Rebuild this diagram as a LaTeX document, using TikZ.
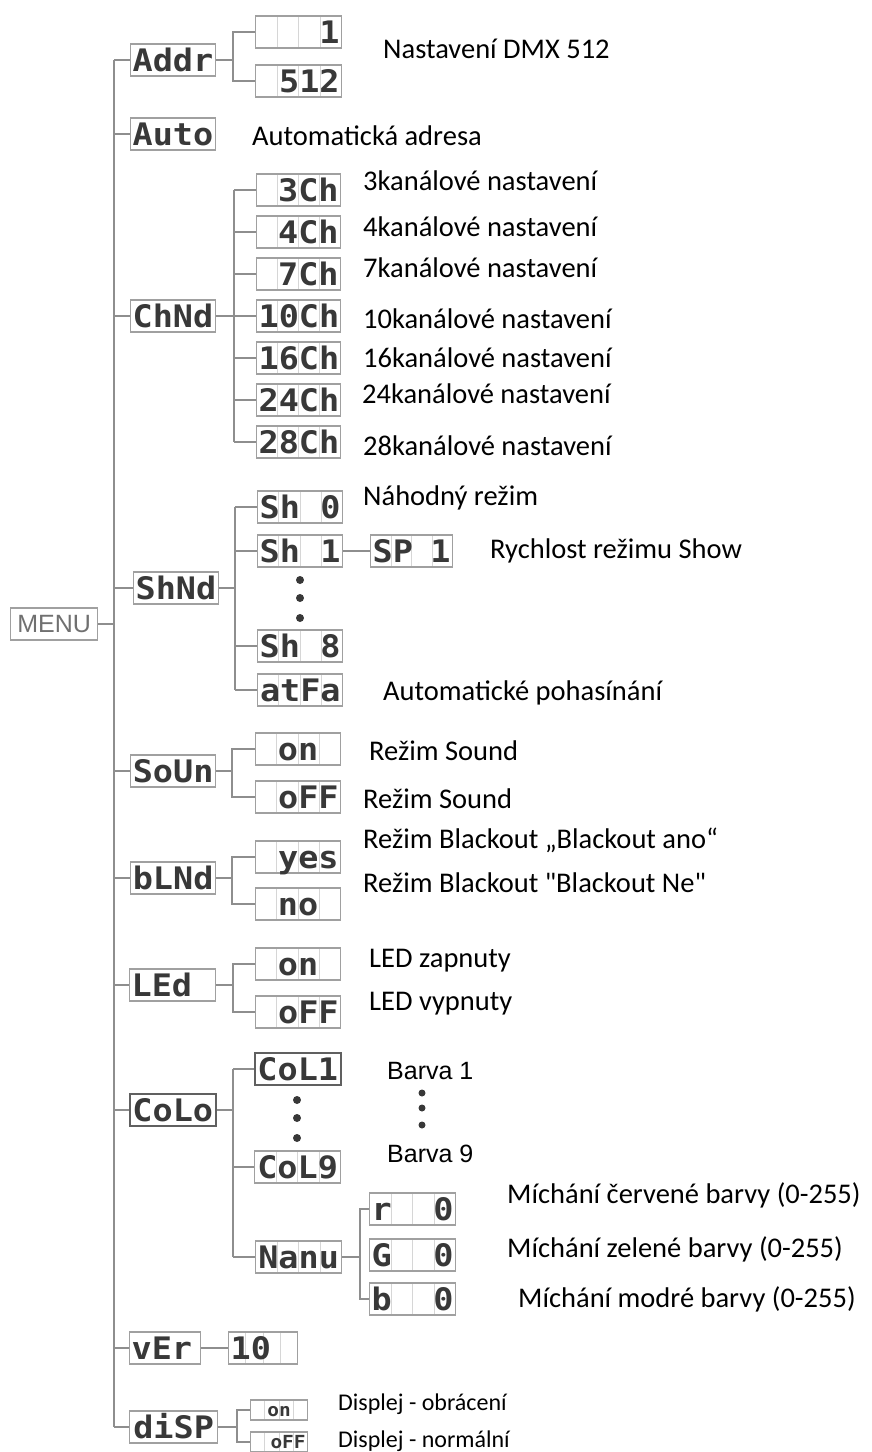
\documentclass[tikz,border=0pt]{standalone}
\usepackage{fontspec}
\setmainfont{Carlito}[Ligatures=TeXOff]
\newfontfamily\segfont[FakeStretch=1.08]{DejaVu Sans Mono}
\newfontfamily\arialfont{Liberation Sans}
\usetikzlibrary{calc}
\definecolor{boxc}{HTML}{A0A0A0}
\definecolor{connc}{HTML}{8E8E8E}
\definecolor{cellc}{HTML}{D6D6D6}
\definecolor{segc}{HTML}{383838}
\definecolor{menuc}{HTML}{707070}
\begin{document}
\begin{tikzpicture}[x=1pt,y=-1pt,
  seg/.style={draw=boxc, line width=1.3pt, minimum height=32pt, inner xsep=2pt, inner ysep=0pt,
    text=segc, font=\segfont\bfseries\fontsize{31}{31}\selectfont, text height=27pt, text depth=4.5pt, anchor=west},
  segsmall/.style={seg, minimum height=20pt, font=\segfont\bfseries\fontsize{18}{18}\selectfont, text height=16pt, text depth=3pt},
  wC/.style={minimum width=#1},
  wR/.style={text width=#1-4pt, align=right},
  wL/.style={text width=#1-4pt, align=left},
  segcells/.style={path picture={
    \foreach \i in {1,2,3}{
      \draw[cellc, line width=0.9pt]
        ($(path picture bounding box.north west)!\i/4!(path picture bounding box.north east)$) --
        ($(path picture bounding box.south west)!\i/4!(path picture bounding box.south east)$);
    }}},
  darkbox/.style={draw=segc!80, line width=1.6pt},
  conn/.style={draw=connc, line width=1.2pt},
  lab/.style={anchor=base west, inner sep=0pt, font=\fontsize{28.5}{28.5}\selectfont},
  labsmall/.style={anchor=base west, inner sep=0pt, font=\fontsize{24}{24}\selectfont},
  labarial/.style={anchor=base west, inner sep=0pt, font=\arialfont\fontsize{25}{25}\selectfont},
  dotfill/.style={fill=segc}
]
\useasboundingbox (0,0) rectangle (871,1452);

% MENU
\node[draw=boxc, line width=1.3pt, minimum width=87pt, minimum height=32pt, inner sep=0pt, anchor=west,
  text=menuc, font=\arialfont\fontsize{25}{25}\selectfont] (menu) at (10,624) {MENU};
\coordinate (trunk) at (114,0);

% level 1
\node[seg, wC=84pt] (addr) at (130,60) {Addr};
\node[seg, wC=84pt] (auto) at (130,134) {Auto};
\node[seg, wC=83pt] (chnd) at (130,316) {ChNd};
\node[seg, wC=84pt] (shnd) at (133,588) {ShNd};
\node[seg, wC=85pt] (soun) at (130,771) {SoUn};
\node[seg, wC=85pt] (blnd) at (130,878) {bLNd};
\node[seg, wL=86pt] (led) at (129,985) {LEd};
\node[seg, darkbox, wC=86pt] (colo) at (129,1110) {CoLo};
\node[seg, wL=71pt] (ver) at (129,1348) {vEr};
\node[seg, wC=88pt] (disp) at (129,1427) {diSP};

\draw[conn] (menu.east) -- (menu.east -| trunk);
\draw[conn] (addr.west -| trunk) -- (disp.west -| trunk);
\foreach \n in {addr,auto,chnd,shnd,soun,blnd,led,colo,ver,disp}
  \draw[conn] (\n.west -| trunk) -- (\n.west);

% Addr
\node[seg, segcells, wR=86pt] (a1) at (255,32) {1};
\node[seg, segcells, wR=86pt] (a2) at (255,81) {512};
\coordinate (bA) at (233,0);
\draw[conn] (addr.east) -- (addr.east -| bA);
\draw[conn] (a1.west) -- (a1.west -| bA) -- (a2.west -| bA) -- (a2.west);
\node[lab] (tA) at (383,58) {Nastavení DMX 512};
\node[lab] (tAuto) at (252,145) {Automatická adresa};

% ChNd
\node[seg, segcells, wR=84pt] (c3) at (256,190) {3Ch};
\node[seg, segcells, wR=84pt] (c4) at (256,232) {4Ch};
\node[seg, segcells, wR=84pt] (c7) at (256,274) {7Ch};
\node[seg, segcells, wR=84pt] (c10) at (256,316) {10Ch};
\node[seg, segcells, wR=84pt] (c16) at (256,358) {16Ch};
\node[seg, segcells, wR=84pt] (c24) at (256,400) {24Ch};
\node[seg, segcells, wR=84pt] (c28) at (256,442) {28Ch};
\coordinate (bC) at (234,0);
\draw[conn] (chnd.east) -- (chnd.east -| bC);
\draw[conn] (c3.west -| bC) -- (c28.west -| bC);
\foreach \n in {c3,c4,c7,c10,c16,c24,c28}
  \draw[conn] (\n.west -| bC) -- (\n.west);
\node[lab] (t3) at (363,190) {3kanálové nastavení};
\node[lab] (t4) at (363,236) {4kanálové nastavení};
\node[lab] (t7) at (363,277) {7kanálové nastavení};
\node[lab] (t10) at (363,328) {10kanálové nastavení};
\node[lab] (t16) at (363,367) {16kanálové nastavení};
\node[lab] (t24) at (362,403) {24kanálové nastavení};
\node[lab] (t28) at (363,455) {28kanálové nastavení};

% ShNd
\node[seg, segcells, wR=85pt] (s0) at (257,507) {Sh\hfill 0};
\node[seg, segcells, wR=85pt] (s1) at (257,551) {Sh\hfill 1};
\node[seg, segcells, wR=85pt] (s8) at (257,646) {Sh\hfill 8};
\node[seg, segcells, wR=85pt] (sa) at (257,690) {atFa};
\node[seg, segcells, wR=82pt] (sp) at (370,551) {SP\hfill 1};
\coordinate (bS) at (235,0);
\draw[conn] (shnd.east) -- (shnd.east -| bS);
\draw[conn] (s0.west -| bS) -- (sa.west -| bS);
\foreach \n in {s0,s1,s8,sa}
  \draw[conn] (\n.west -| bS) -- (\n.west);
\draw[conn] (s1.east) -- (sp.west);
\fill[dotfill] (300,580) circle (4pt);
\fill[dotfill] (300,598) circle (4pt);
\fill[dotfill] (300,618) circle (4pt);
\node[lab] (ts0) at (363,505) {Náhodný režim};
\node[lab] (tsp) at (490,558) {Rychlost režimu Show};
\node[lab] (tsa) at (383,700) {Automatické pohasínání};

% SoUn
\node[seg, segcells, wC=85pt] (so1) at (255,749) {on};
\node[seg, segcells, wR=85pt] (so2) at (255,797) {oFF};
\coordinate (bSo) at (232,0);
\draw[conn] (soun.east) -- (soun.east -| bSo);
\draw[conn] (so1.west) -- (so1.west -| bSo) -- (so2.west -| bSo) -- (so2.west);
\node[lab] (tso1) at (369,760) {Režim Sound};
\node[lab] (tso2) at (363,808) {Režim Sound};

% bLNd
\node[seg, segcells, wR=85pt] (b1) at (255,857) {yes};
\node[seg, segcells, wC=85pt] (b2) at (255,904) {no};
\coordinate (bB) at (232,0);
\draw[conn] (blnd.east) -- (blnd.east -| bB);
\draw[conn] (b1.west) -- (b1.west -| bB) -- (b2.west -| bB) -- (b2.west);
\node[lab] (tb1) at (363,848) {Režim Blackout „Blackout ano“};
\node[lab] (tb2) at (363,892) {Režim Blackout "Blackout Ne"};

% LEd
\node[seg, segcells, wC=85pt] (l1) at (255,964) {on};
\node[seg, segcells, wR=85pt] (l2) at (255,1012) {oFF};
\coordinate (bL) at (233,0);
\draw[conn] (led.east) -- (led.east -| bL);
\draw[conn] (l1.west) -- (l1.west -| bL) -- (l2.west -| bL) -- (l2.west);
\node[lab] (tl1) at (369,967) {LED zapnuty};
\node[lab] (tl2) at (369,1010) {LED vypnuty};

% CoLo
\node[seg, darkbox, wC=86pt] (co1) at (254,1069) {CoL1};
\node[seg, segcells, wC=86pt] (co9) at (254,1167) {CoL9};
\node[seg, segcells, wC=86pt] (manu) at (255,1257) {Nanu};
\coordinate (bCo) at (233,0);
\draw[conn] (colo.east) -- (colo.east -| bCo);
\draw[conn] (co1.west -| bCo) -- (manu.west -| bCo);
\foreach \n in {co1,co9,manu}
  \draw[conn] (\n.west -| bCo) -- (\n.west);
\fill[dotfill] (297,1100) circle (4pt);
\fill[dotfill] (297,1118) circle (4pt);
\fill[dotfill] (297,1138) circle (4pt);
\node[labarial] (tco1) at (387,1079) {Barva 1};
\node[labarial] (tco9) at (387,1162) {Barva 9};
\fill[dotfill] (422,1093) circle (3.5pt);
\fill[dotfill] (422,1108) circle (3.5pt);
\fill[dotfill] (422,1125) circle (3.5pt);

% Manu
\node[seg, segcells, wR=86pt] (mr) at (369,1209) {r\hfill 0};
\node[seg, segcells, wR=86pt] (mg) at (369,1255) {G\hfill 0};
\node[seg, segcells, wR=86pt] (mb) at (369,1299) {b\hfill 0};
\coordinate (bM) at (360,0);
\draw[conn] (manu.east) -- (manu.east -| bM);
\draw[conn] (mr.west) -- (mr.west -| bM) -- (mb.west -| bM) -- (mb.west);
\node[lab] (tmr) at (507,1203) {Míchání červené barvy (0-255)};
\node[lab] (tmg) at (507,1257) {Míchání zelené barvy (0-255)};
\node[lab] (tmb) at (518,1307) {Míchání modré barvy (0-255)};

% vEr
\node[seg, segcells, wL=69pt] (verc) at (228,1348) {10};
\draw[conn] (ver.east) -- (verc.west);

% diSP
\node[segsmall, segcells, wC=57pt] (d1) at (250,1410) {on};
\node[segsmall, segcells, wR=57pt] (d2) at (250,1442) {oFF};
\coordinate (bD) at (237,0);
\draw[conn] (disp.east) -- (disp.east -| bD);
\draw[conn] (d1.west) -- (d1.west -| bD) -- (d2.west -| bD) -- (d2.west);
\node[labsmall] (td1) at (338,1410) {Displej - obrácení};
\node[labsmall] (td2) at (338,1447) {Displej - normální};
\end{tikzpicture}
\end{document}
